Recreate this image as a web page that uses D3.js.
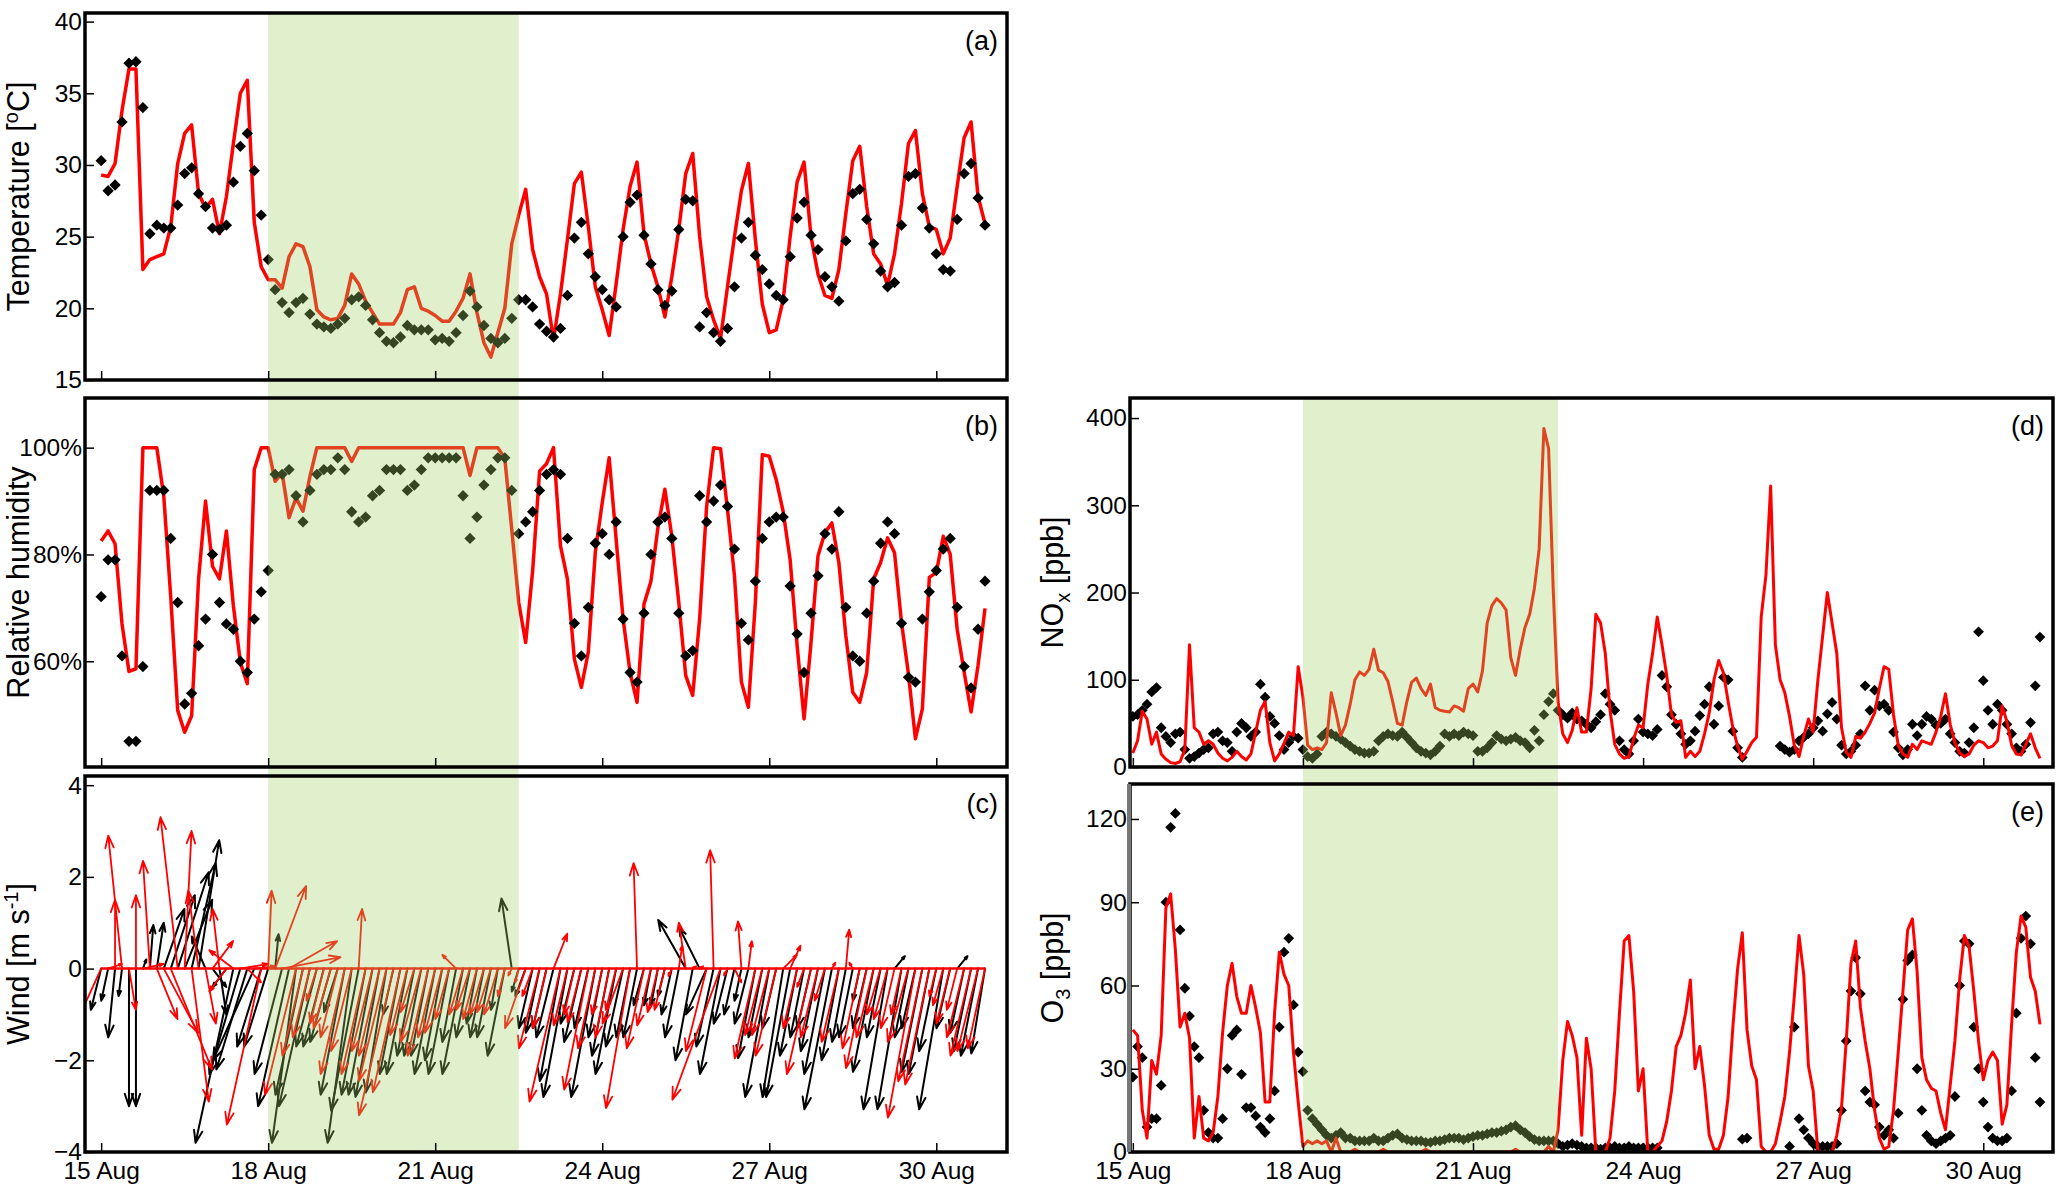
<!DOCTYPE html>
<html>
<head>
<meta charset="utf-8">
<script src="https://cdn.jsdelivr.net/npm/d3@7"></script>
<style>
  body { margin: 0; background: #fff; }
  text { font-family: "Liberation Sans", Arial, Helvetica, sans-serif; fill: #000; }
</style>
</head>
<body>
<svg id="chart" width="2067" height="1191"></svg>
<script>
// time axis: days since 15 Aug 00:00
var dateTicks = [0, 3, 6, 9, 12, 15];
var dateLabels = ['15 Aug', '18 Aug', '21 Aug', '24 Aug', '27 Aug', '30 Aug'];
var stepMet = 1 / 8;    // 3-hourly series (a)-(c)
var stepChem = 1 / 12;  // 2-hourly series (d)-(e)
var bandStart = 3, bandEnd = 7.5;

var tempTicks = [15, 20, 25, 30, 35, 40];
var rhTicks = [60, 80, 100];
var windTicks = [-4, -2, 0, 2, 4];
var noxTicks = [0, 100, 200, 300, 400];
var o3Ticks = [0, 30, 60, 90, 120];

// (a) temperature
var tempObs = [
  30.3,28.2,28.6,33.0,37.1,37.2,34.0,25.2, 25.8,25.6,25.6,27.2,29.4,29.8,28.0,27.1,
  25.6,25.5,25.8,28.8,31.3,32.2,29.6,26.5, 23.4,21.3,20.4,19.7,20.4,20.7,19.6,18.9,
  18.7,18.6,18.9,19.3,20.6,20.8,20.2,19.2, 18.3,17.7,17.6,18.0,18.8,18.5,18.5,18.5,
  17.8,17.9,17.7,18.3,19.5,21.2,20.1,18.8, 17.9,17.6,17.9,19.3,20.6,20.6,20.1,18.9,
  18.4,18.0,18.6,20.9,24.9,26.0,23.8,22.2, 21.3,20.6,20.1,25.0,27.4,27.9,25.1,23.1,
  21.3,20.2,21.2,25.5,27.6,27.5,18.7,19.7, 18.3,17.7,18.6,21.5,24.9,26.0,23.7,22.7,
  21.7,20.9,20.6,23.6,26.3,27.4,25.1,24.1, 22.2,21.5,20.5,24.7,28.0,28.3,26.2,24.5,
  22.6,21.5,21.8,25.8,29.2,29.4,27.0,25.6, 23.8,22.7,22.6,26.2,29.4,30.1,27.7,25.8
];
var tempModel = [
  29.3,29.2,30.1,33.8,36.7,36.7,22.7,23.4, 23.6,23.8,25.7,30.1,32.2,32.8,28.0,27.0,
  27.6,25.2,27.8,31.5,35.0,35.9,26.0,22.9, 22.0,22.0,21.4,23.6,24.5,24.3,22.9,19.9,
  19.4,19.2,19.3,20.2,22.4,21.7,20.5,19.7, 18.9,18.9,18.9,19.7,21.3,21.5,20.0,19.8,
  19.5,19.1,19.1,19.8,20.7,22.4,19.7,17.6, 16.6,18.3,20.0,24.5,26.5,28.3,24.1,22.2,
  21.0,17.8,21.0,24.8,28.7,29.5,25.7,21.5, 19.9,18.1,21.7,25.5,28.5,30.2,25.2,23.1,
  21.5,19.4,22.2,25.5,29.4,30.8,25.0,20.8, 19.2,17.9,21.5,25.0,28.2,30.1,24.8,20.3,
  18.3,18.5,20.6,25.0,28.8,30.2,25.0,22.4, 20.9,20.7,22.7,26.6,30.3,31.3,27.1,23.8,
  23.1,21.6,23.8,27.3,31.5,32.4,28.0,25.7, 25.5,23.8,24.9,28.5,31.9,33.0,27.8,25.9
];

// (b) relative humidity [%]
var rhObs = [
  72.1,79.0,79.0,61.0,45.0,45.0,59.0,92.0, 92.0,92.0,83.0,71.0,52.0,54.0,62.9,67.9,
  80.0,71.0,67.0,66.0,60.0,57.9,67.9,73.0, 77.0,95.0,95.0,95.9,91.0,86.1,92.0,95.0,
  95.9,95.9,98.1,95.9,88.0,86.1,87.0,91.0, 92.0,95.9,95.9,95.9,92.0,93.0,95.9,98.1,
  98.1,98.1,98.1,98.1,91.0,83.0,87.0,93.0, 95.9,98.1,98.1,92.0,83.9,86.1,88.0,92.0,
  95.0,95.9,95.0,83.0,67.1,61.0,70.1,82.1, 83.9,80.0,86.1,67.9,57.9,56.1,69.0,80.0,
  86.1,87.0,83.0,69.0,61.0,62.0,91.0,86.1, 90.0,93.0,89.0,81.0,67.1,64.0,75.0,83.0,
  86.1,87.0,87.0,74.1,65.1,57.9,69.0,76.0, 83.9,81.0,88.0,70.1,61.0,60.0,69.0,75.0,
  82.1,86.1,83.9,67.1,57.0,56.1,67.9,73.0, 77.0,81.0,83.0,70.1,59.0,55.0,66.0,75.0
];
var rhModel = [
  82.5,84.4,82.0,67.0,58.1,58.6,100,100, 100,90.9,72.0,50.8,46.7,49.8,75.4,90.0,
  77.8,75.4,84.4,70.4,59.8,55.8,95.9,100, 100,93.7,95.3,86.9,90.6,88.1,94.6,100,
  100,100,100,100,97.4,100,100,100, 100,100,100,100,100,100,100,100,
  100,100,100,100,100,94.8,100,100, 100,100,98.0,84.7,71.0,63.5,76.9,95.6,
  97.0,100,81.6,75.4,60.4,55.1,61.7,80.3, 89.7,98.1,82.8,67.9,57.9,52.3,70.7,75.0,
  85.0,92.2,83.4,71.0,57.3,53.6,68.0,89.0, 100,99.8,88.4,76.0,56.1,51.4,71.0,98.7,
  98.4,94.0,88.0,79.0,63.0,49.2,63.5,79.7, 84.1,85.9,78.5,64.8,54.2,52.3,57.9,75.4,
  78.5,83.1,80.3,67.3,57.6,45.5,51.1,75.7, 76.6,83.4,80.0,66.0,58.0,50.5,59.2,69.9
];

// (c) wind components [m s-1]
var windObsU = [
  -0.15,-0.1,-0.1,-0.05,0,0,0.05,0.05, 0.1,0.3,0.35,0.45,0.4,0.35,0.3,-0.2,
  0.2,0.1,-0.2,-0.55,-0.45,-0.45,-0.6,-0.35, -0.35,0.05,-0.4,-0.45,-0.35,-0.4,-0.45,-0.3,
  -0.3,-0.3,-0.2,-0.35,-0.35,-0.4,-0.35,-0.35, -0.35,-0.3,-0.15,-0.3,-0.3,-0.25,-0.25,-0.25,
  -0.3,-0.25,-0.3,-0.2,-0.3,-0.2,-0.15,-0.2, -0.2,-0.1,-0.25,-0.15,-0.1,-0.15,-0.2,-0.2,
  -0.2,-0.25,-0.3,-0.35,-0.2,-0.25,-0.2,-0.35, -0.2,-0.25,-0.3,-0.25,-0.2,-0.2,-0.15,-0.1,
  -0.1,-0.1,-0.15,-0.2,-0.4,-0.25,-0.3,-0.3, -0.25,-0.3,-0.2,-0.15,-0.1,-0.2,-0.25,-0.2,
  -0.35,-0.2,-0.3,-0.35,-0.25,-0.2,-0.2,-0.25, -0.3,-0.4,-0.25,-0.2,-0.2,-0.1,-0.2,-0.3,
  -0.2,-0.35,0.15,-0.35,-0.2,-0.2,-0.3,-0.3, -0.25,-0.35,-0.2,0.15,-0.2,-0.25,-0.25,-0.2
];
var windObsV = [
  -0.9,-0.7,-1.5,-0.6,-3.0,-3.0,0.2,0.95, 1.0,1.3,1.6,2.1,1.5,2.3,2.8,0.7,
  -0.4,-1.0,-0.4,-3.8,-2.3,-2.2,-2.0,-1.7, -1.7,0.75,-2.3,-3.0,-3.8,-2.75,-3.0,-1.7,
  -1.7,-1.6,-0.95,-2.75,-3.8,-3.1,-2.75,-2.75, -2.8,-2.7,-1.0,-2.3,-2.3,-1.9,-1.9,-1.9,
  -2.3,-2.0,-2.3,-1.6,-2.3,-1.5,-1.2,-1.5, -1.5,-0.9,-1.9,1.53,-0.5,-0.6,-1.3,-1.4,
  -1.3,-1.5,-2.45,-2.8,-1.2,-1.6,-1.3,-2.8, -1.5,-1.9,-2.3,-1.7,-1.5,-1.5,-0.8,-0.8,
  -0.8,-0.6,-1.0,-1.5,1.06,-2.0,0.9,-1.0, -1.7,-2.3,-1.2,-1.0,-0.7,-1.2,-1.95,-1.5,
  -2.8,-1.3,-2.8,-2.8,-1.9,-1.5,-1.3,-1.8, -2.3,-3.07,-2.0,-1.6,-1.5,-0.7,-1.3,-2.25,
  -1.5,-3.07,0.27,-3.07,-1.5,-1.3,-2.25,-2.3, -1.8,-3.07,-1.3,0.27,-1.4,-1.8,-1.9,-1.85
];
var windModelU = [
  -0.35,0.2,0.0,-0.2,0.1,0.0,0.3,-0.1, 0.3,0.5,0.6,-0.25,0.1,0.25,-0.15,0.15,
  0.3,-0.1,-0.25,-0.35,0.4,0.2,0.3,-0.5, 0.05,0.45,0.85,0.7,-0.45,-0.3,-0.25,-0.15,
  -0.2,-0.25,-0.25,-0.35,-0.3,0.05,-0.35,-0.3, -0.3,-0.4,-0.5,-0.4,-0.25,-0.2,-0.3,-0.3,
  -0.25,-0.25,-0.2,-0.2,-0.2,-0.2,-0.2,-0.2, -0.2,-0.2,-0.1,-0.05,-0.05,-0.3,-0.15,-0.3,
  -0.2,0.2,-0.45,-0.2,-0.15,-0.2,-0.35,-0.25, -0.15,-0.2,-0.15,-0.3,-0.35,-0.05,-0.25,-0.2,
  -0.15,-0.15,-0.05,0.05,-0.1,0.05,0.05,-0.3, -0.05,-0.7,-0.05,0.1,-0.05,0.05,-0.3,-0.25,
  -0.25,-0.3,0.2,0.15,-0.2,-0.1,-0.35,-0.25, -0.15,0.05,-0.25,0.05,-0.05,-0.25,-0.3,-0.25,
  -0.2,-0.2,-0.2,-0.15,-0.3,-0.4,-0.35,-0.35, -0.1,-0.15,-0.2,-0.15,-0.25,-0.3,-0.3,-0.25
];
var windModelV = [
  -1.15,0.1,1.5,2.9,-0.9,1.6,0.1,2.35, -1.1,-1.4,-2.2,3.3,3.0,-2.9,1.7,-1.2,
  0.6,1.3,-0.5,0.4,0.1,-0.3,0.05,-3.4, 1.7,1.8,0.25,0.6,-2.75,-1.9,-1.5,-0.7,
  -1.2,-1.3,-1.5,-2.3,-1.8,1.3,-2.3,-1.8, -1.9,-2.45,-3.2,-2.7,-1.45,-0.95,-1.6,-1.9,
  -1.5,-1.4,-1.1,0.3,-1.0,-0.9,-1.1,-1.0, -0.95,-1.0,-0.6,-0.15,-0.3,-1.3,-0.6,-1.74,
  -1.3,0.76,-2.9,-1.24,-1.0,-1.17,-2.64,-1.74, -1.0,-1.5,-0.9,-1.2,-3.04,2.3,-1.74,-1.24,
  -0.95,-0.9,-0.16,0.5,1.0,0.05,0.05,-1.8, 2.58,-2.86,-0.15,-0.3,1.03,0.6,-1.96,-1.45,
  -1.45,-1.9,0.3,0.5,-1.3,-0.4,-2.3,-1.5, -0.7,0.13,-1.6,0.85,0.13,-1.74,-2.17,-1.5,
  -1.0,-1.1,-1.3,-1.0,-1.6,-3.25,-2.46,-2.53, -0.6,-0.8,-1.2,-0.9,-1.5,-1.9,-1.8,-1.74
];

// (d) NOx [ppb]
var noxObs = [
  58,60,65,72,86,91,45,35,28,38,40,20,
  10,12,16,20,22,38,40,30,28,18,40,50,
  45,35,40,95,80,58,50,36,20,28,35,33,
  20,12,10,15,35,40,38,35,32,28,24,20,
  18,16,16,18,30,35,38,36,35,40,34,28,
  22,18,16,14,18,24,38,35,38,36,40,38,
  36,18,18,22,28,36,32,30,32,34,30,28,
  22,42,30,60,75,84,65,60,56,62,55,53,
  49,45,52,60,84,72,65,30,20,15,30,55,
  40,38,36,43,105,92,60,49,38,26,30,41,
  59,72,92,49,70,103,100,41,22,11,null,null,
  null,null,null,null,null,24,20,17,20,30,34,38,
  45,53,41,61,74,55,25,15,18,25,38,93,
  65,88,70,72,65,40,22,14,20,49,36,49,
  58,55,48,50,55,38,28,18,16,28,45,155,
  99,65,49,72,65,49,38,22,18,26,51,93,
  149
];
var noxModel = [
  16,30,64,55,26,40,15,9,5,4,6,20,
  140,45,40,26,30,26,16,10,7,11,18,12,
  8,15,40,65,75,28,7,15,27,40,36,115,
  80,25,20,22,20,28,85,62,36,48,72,100,
  109,105,112,135,111,108,98,75,50,48,75,97,
  102,90,82,95,68,65,64,63,70,68,64,90,
  95,86,110,165,185,193,188,180,125,105,135,160,
  175,205,250,388,365,200,75,38,28,42,68,40,
  40,90,175,165,130,65,26,15,10,12,32,48,
  45,95,130,172,140,105,60,51,53,11,18,12,
  18,38,62,100,122,108,75,45,24,9,18,28,
  34,172,220,322,140,100,85,58,25,12,35,55,
  40,100,150,200,165,130,45,17,11,35,33,40,
  50,62,90,115,112,60,25,15,11,26,20,30,
  28,26,40,58,84,49,28,16,12,15,25,30,
  28,22,24,30,70,52,25,15,14,26,38,22,
  10
];

// (e) O3 [ppb]
var o3Obs = [
  27,38,34,9,12,12,24,90,117,122,80,59,
  49,38,34,15,7,5,5,12,30,42,44,28,
  16,16,13,9,7,12,22,45,72,77,53,36,
  29,15,12,10,8,6,5,6,7,5,5,4,
  4,4,4,5,4,4,5,6,6.5,5,4.5,4,
  4,4,3.5,3.5,4,4,4.5,5,5,5,4.5,5,
  5.5,6,6,6.5,7,7,7.5,8,9,9.5,8,7,
  5.5,4.5,4,4,4,4,3,2,2.5,3,2.5,2,
  1.5,1.5,1.5,1,1.5,1.5,2,1.5,1.5,2,1.5,1.5,
  1.5,1.5,1.5,1.5,null,null,null,null,null,null,null,null,
  null,null,null,null,null,null,null,null,null,4.6,5,null,
  null,null,null,null,null,null,null,2,45,12,8,5,
  3,2,2,2,2,3,15,40,58,70,57,22,
  18,17,9,6,8,5,14,55,69,71,30,15,
  6,4,3,4,5,6,20,60,76,75,45,30,
  18,9,5,4,4,5,22,50,77,85,75,34,
  18
];
var o3Model = [
  44,42,15,5,33,28,42,88,93,73,45,50,
  41,5,20,5,4,7,20,43,60,68,56,50,
  50,60,52,43,18,18,50,72,64,60,36,18,
  2,4,3,4,3,4,0,5,0,0,0,1,
  0,0,0,0,0,1,0,0,0,0,0,0,
  0,0,1,0,0,0,0,0,0,0,0,0,
  0,0,0,0,0,0,0,0,0,1,0,0,
  0,0,0,0,2,0,8,33,47,42,34,6,
  41,30,0,0,0,5,22,50,76,78,58,22,
  30,0,0,2,4,11,22,38,42,50,62,30,
  38,24,6,1,1,6,20,45,66,79,44,31,
  26,2,0,0,3,11,20,36,56,78,64,31,
  22,0,0,0,0,6,16,40,68,76,52,40,
  30,15,5,1,2,15,36,58,80,84,65,34,
  26,23,22,14,8,24,40,62,78,74,58,40,
  26,33,36,33,10,17,46,72,85,81,63,58,
  46
];

var RED = '#ff0000';
var svg = d3.select('#chart');
svg.append('rect').attr('width', 2067).attr('height', 1191).attr('fill', '#fff');

var xLeft = d3.scaleLinear().domain([-0.29, 16.27]).range([85, 1007]);
var xRight = d3.scaleLinear().domain([-0.05, 16.23]).range([1130, 2053]);

var panels = {
  a: { x: xLeft, y: d3.scaleLinear().domain([15, 40.6]).range([380, 13]) },
  b: { x: xLeft, y: d3.scaleLinear().domain([40.2, 109.3]).range([767, 398]) },
  c: { x: xLeft, y: d3.scaleLinear().domain([-4, 4.2]).range([1152, 776]) },
  d: { x: xRight, y: d3.scaleLinear().domain([0, 423]).range([767, 398]) },
  e: { x: xRight, y: d3.scaleLinear().domain([0, 132.6]).range([1152, 784]) }
};

var dataLayer = svg.append('g');
var bandLayer = svg.append('g');
var axisLayer = svg.append('g');

Object.keys(panels).forEach(function (key) {
  var p = panels[key];
  var x0 = p.x.range()[0], x1 = p.x.range()[1];
  var y0 = p.y.range()[1], y1 = p.y.range()[0];
  svg.append('clipPath').attr('id', 'clip-' + key)
    .append('rect').attr('x', x0).attr('y', y0).attr('width', x1 - x0).attr('height', y1 - y0);
  p.g = dataLayer.append('g').attr('clip-path', 'url(#clip-' + key + ')');
});

function drawLine(p, values, step, width) {
  p.g.append('path')
    .datum(values)
    .attr('fill', 'none')
    .attr('stroke', RED)
    .attr('stroke-width', width)
    .attr('stroke-linejoin', 'round')
    .attr('d', d3.line()
      .defined(function (d) { return d != null; })
      .x(function (d, i) { return p.x(i * step); })
      .y(function (d) { return p.y(d); }));
}

function drawDots(p, values, step, size) {
  var sym = d3.symbol().type(d3.symbolSquare).size(size);
  p.g.append('g').selectAll('path')
    .data(values.map(function (v, i) { return { t: i * step, v: v }; })
      .filter(function (d) { return d.v != null; }))
    .join('path')
    .attr('d', sym)
    .attr('fill', '#000')
    .attr('transform', function (d) {
      return 'translate(' + p.x(d.t) + ',' + p.y(d.v) + ') rotate(45)';
    });
}

function drawQuiver(p, us, vs, color, width) {
  var ky = p.y(0) - p.y(1);
  var kx = 1.5 * ky; // horizontal stretch of the u component, as in the original quiver
  p.g.append('g').selectAll('path')
    .data(us.map(function (u, i) { return { t: i * stepMet, u: u, v: vs[i] }; }))
    .join('path')
    .attr('fill', 'none')
    .attr('stroke', color)
    .attr('stroke-width', width)
    .attr('stroke-linecap', 'round')
    .attr('stroke-linejoin', 'round')
    .attr('d', function (d) {
      var xa = p.x(d.t), ya = p.y(0);
      var xb = xa + d.u * kx, yb = p.y(d.v);
      var len = Math.hypot(xb - xa, yb - ya);
      var path = d3.path();
      if (len < 1) return '';
      var a = Math.atan2(yb - ya, xb - xa);
      var h = Math.max(3, Math.min(13, 0.2 * len)), sp = 0.33;
      path.moveTo(xa, ya); path.lineTo(xb, yb);
      path.moveTo(xb - h * Math.cos(a - sp), yb - h * Math.sin(a - sp));
      path.lineTo(xb, yb);
      path.lineTo(xb - h * Math.cos(a + sp), yb - h * Math.sin(a + sp));
      return path.toString();
    });
}

// (a)
drawLine(panels.a, tempModel, stepMet, 3.5);
drawDots(panels.a, tempObs, stepMet, 64);
// (b)
drawLine(panels.b, rhModel, stepMet, 3.5);
drawDots(panels.b, rhObs, stepMet, 64);
// (c)
drawQuiver(panels.c, windObsU, windObsV, '#000', 2);
drawQuiver(panels.c, windModelU, windModelV, RED, 1.8);
panels.c.g.append('line')
  .attr('x1', panels.c.x(0)).attr('x2', panels.c.x((windModelV.length - 1) * stepMet))
  .attr('y1', panels.c.y(0)).attr('y2', panels.c.y(0))
  .attr('stroke', RED).attr('stroke-width', 2.5);
// (d)
drawDots(panels.d, noxObs, stepChem, 58);
drawLine(panels.d, noxModel, stepChem, 3);
// (e)
drawDots(panels.e, o3Obs, stepChem, 58);
drawLine(panels.e, o3Model, stepChem, 3);

// shaded period, laid over the data
bandLayer.append('rect')
  .attr('x', xLeft(bandStart)).attr('width', xLeft(bandEnd) - xLeft(bandStart))
  .attr('y', panels.a.y.range()[1]).attr('height', panels.c.y.range()[0] - panels.a.y.range()[1])
  .attr('fill', 'rgb(160,205,100)').attr('fill-opacity', 0.33);
bandLayer.append('rect')
  .attr('x', xRight(bandStart)).attr('width', xRight(bandEnd) - xRight(bandStart))
  .attr('y', panels.d.y.range()[1]).attr('height', panels.e.y.range()[0] - panels.d.y.range()[1])
  .attr('fill', 'rgb(160,205,100)').attr('fill-opacity', 0.33);

// axes, frames, labels
var yTicks = { a: tempTicks, b: rhTicks, c: windTicks, d: noxTicks, e: o3Ticks };
var letters = { a: '(a)', b: '(b)', c: '(c)', d: '(d)', e: '(e)' };

Object.keys(panels).forEach(function (key) {
  var p = panels[key];
  var left = p.x.range()[0], right = p.x.range()[1];
  var top = p.y.range()[1], bottom = p.y.range()[0];
  var showDates = (key === 'c' || key === 'e');

  var ay = axisLayer.append('g').attr('transform', 'translate(' + left + ',0)')
    .call(d3.axisLeft(p.y).tickValues(yTicks[key]).tickSize(-9).tickPadding(3)
      .tickFormat(key === 'b' ? function (d) { return d + '%'; } : d3.format('d')));
  var ax = axisLayer.append('g').attr('transform', 'translate(0,' + bottom + ')')
    .call(d3.axisBottom(p.x).tickValues(dateTicks).tickSize(-9).tickPadding(10)
      .tickFormat(function (d, i) { return showDates ? dateLabels[i] : ''; }));
  [ay, ax].forEach(function (sel) {
    sel.select('.domain').remove();
    sel.attr('font-size', 24.5).attr('font-family', '"Liberation Sans", Arial, sans-serif');
    sel.selectAll('line').attr('stroke-width', 1.5);
  });

  axisLayer.append('rect')
    .attr('x', left).attr('y', top).attr('width', right - left).attr('height', bottom - top)
    .attr('fill', 'none').attr('stroke', '#000').attr('stroke-width', 3.5);

  axisLayer.append('text')
    .attr('x', right - 9).attr('y', top + 37)
    .attr('text-anchor', 'end').attr('font-size', 27)
    .text(letters[key]);
});

// grey edge on the left of (e)
axisLayer.append('line')
  .attr('x1', xRight.range()[0] - 1).attr('x2', xRight.range()[0] - 1)
  .attr('y1', panels.e.y.range()[1]).attr('y2', panels.e.y.range()[0])
  .attr('stroke', '#777').attr('stroke-width', 4);

function yTitle(x, p, parts) {
  var cy = (p.y.range()[0] + p.y.range()[1]) / 2;
  var t = axisLayer.append('text')
    .attr('transform', 'translate(' + x + ',' + cy + ') rotate(-90)')
    .attr('text-anchor', 'middle').attr('font-size', 30.5);
  parts.forEach(function (part) {
    var s = t.append('tspan').text(part.s);
    if (part.shift) s.attr('font-size', 20).attr('dy', part.shift);
    if (part.back) s.attr('dy', part.back);
  });
}

yTitle(28.5, panels.a, [{ s: 'Temperature [' }, { s: 'o', shift: -11 }, { s: 'C]', back: 11 }]);
yTitle(28.5, panels.b, [{ s: 'Relative humidity' }]);
yTitle(28.5, panels.c, [{ s: 'Wind [m s' }, { s: '-1', shift: -11 }, { s: ']', back: 11 }]);
yTitle(1063, panels.d, [{ s: 'NO' }, { s: 'x', shift: 7 }, { s: ' [ppb]', back: -7 }]);
yTitle(1063, panels.e, [{ s: 'O' }, { s: '3', shift: 7 }, { s: ' [ppb]', back: -7 }]);
</script>
</body>
</html>
